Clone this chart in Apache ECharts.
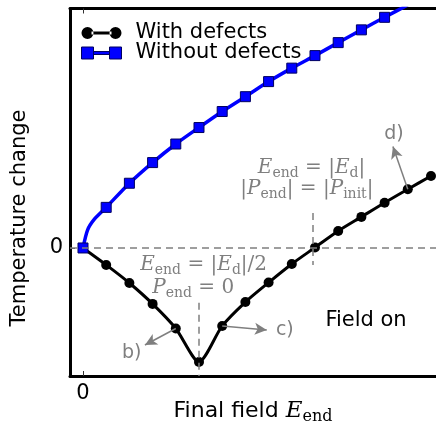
<!DOCTYPE html>
<html><head><meta charset="utf-8">
<script src="https://cdn.jsdelivr.net/npm/echarts@6/dist/echarts.min.js"></script>
<style>html,body{margin:0;padding:0;background:#fff}#c{width:436px;height:430px}</style>
</head><body><div id="c"></div>
<script>
// ---- data ----
const fieldSteps = [0,1,2,3,4,5,6,7,8,9,10,11,12,13,14,15];
const withDefects = [0,-0.73,-1.51,-2.41,-3.47,-4.91,-3.36,-2.33,-1.49,-0.69,0.02,0.73,1.34,1.95,2.53,3.10];
const withoutDefectsSteps = [0,1,2,3,4,5,6,7,8,9,10,11,12,13,14];
const withoutDefects = [0,1.75,2.79,3.68,4.48,5.19,5.88,6.52,7.17,7.75,8.29,8.85,9.40,9.94,10.47];
// extra points read along the curved start of the blue line (no markers there)
const withoutDefectsCurveX = [0.2,0.5];
const withoutDefectsCurveY = [0.78,1.25];
const xTickValues = [0];
const yTickValues = [0];
const seriesNames = ['With defects','Without defects'];
const halfField = 5;      // E_end = |E_d|/2
const fullField = 9.9;    // E_end = |E_d|

const GRAY = '#7f7f7f';
const SANS = 'DejaVu Sans';
const SERIF = 'DejaVu Serif';

const chart = echarts.init(document.getElementById('c'), null, {renderer:'canvas'});

const blackData = fieldSteps.map((x,i)=>[x, withDefects[i]]);
const blueData = [];
withoutDefectsSteps.forEach((x,i)=>{
  blueData.push([x, withoutDefects[i]]);
  if (i === 0) {
    withoutDefectsCurveX.forEach((cx,j)=>blueData.push({value:[cx, withoutDefectsCurveY[j]], symbol:'none'}));
  }
});

const mathRich = (size, color, sansSize) => ({
  i:{fontFamily:SERIF, fontStyle:'italic', fontSize:size, color:color, fill:color},
  r:{fontFamily:SERIF, fontSize:size, color:color, fill:color},
  s:{fontFamily:SERIF, fontSize:Math.round(size*0.7), color:color, fill:color, padding:[11,0,0,0]},
  a:{fontFamily:SANS, fontSize:sansSize || 21, color:'#000', fill:'#000'}
});

const circleIcon = 'path://M0,6a6,6 0 1,0 12,0a6,6 0 1,0 -12,0ZM28,6a6,6 0 1,0 12,0a6,6 0 1,0 -12,0ZM10,4.5H30V7.5H10Z';
const squareIcon = 'path://M0,0H12V12H0ZM28,0H40V12H28ZM12,4.5H28V7.5H12Z';

const xMin = -0.5603, xMax = 15.216, yMin = -5.517, yMax = 10.32;

const option = {
  animation:false,
  backgroundColor:'#fff',
  grid:{left:70, right:0, top:8.5, bottom:54, containLabel:false, outerBoundsMode:'none'},
  legend:{
    orient:'vertical', left:76, top:17.5, itemWidth:40, itemHeight:12, itemGap:-1,
    textStyle:{fontFamily:SANS, fontSize:21, color:'#000', padding:[0,0,0,9]},
    data:[
      {name:seriesNames[0], icon:circleIcon, itemStyle:{color:'#000', borderWidth:0}},
      {name:seriesNames[1], icon:squareIcon, itemStyle:{color:'#0000ff', borderColor:'#000060', borderWidth:1}}
    ]
  },
  xAxis:[
    {type:'value', position:'bottom', min:xMin, max:xMax,
     name:'{a|Final field }{i|E}{s|end}', nameLocation:'middle', nameGap:22, nameMoveOverlap:false,
     nameTextStyle:{rich:mathRich(23,'#000',22)},
     axisLine:{show:true, onZero:false, lineStyle:{color:'#000', width:3}},
     axisTick:{show:true, inside:true, length:5, customValues:xTickValues, lineStyle:{color:'#333', width:1}},
     axisLabel:{show:true, customValues:xTickValues, margin:7, fontFamily:SANS, fontSize:21, color:'#000'},
     splitLine:{show:false}},
    {type:'value', position:'top', min:xMin, max:xMax,
     axisLine:{show:true, onZero:false, lineStyle:{color:'#000', width:3}},
     axisTick:{show:true, inside:true, length:5, customValues:xTickValues, lineStyle:{color:'#333', width:1}},
     axisLabel:{show:false}, splitLine:{show:false}}
  ],
  yAxis:{type:'value', min:yMin, max:yMax,
    axisLine:{show:true, onZero:false, lineStyle:{color:'#000', width:3}},
    axisTick:{show:true, inside:true, length:5, customValues:yTickValues, lineStyle:{color:'#333', width:1}},
    axisLabel:{show:true, customValues:yTickValues, margin:7, fontFamily:SANS, fontSize:21, color:'#000'},
    splitLine:{show:false}},
  series:[
    {name:seriesNames[0], type:'line', xAxisIndex:0, data:blackData, smooth:0.25,
     symbol:'circle', symbolSize:10, showAllSymbol:true,
     lineStyle:{color:'#000', width:3}, itemStyle:{color:'#000'}, z:3,
     markLine:{silent:true, symbol:['none','none'], label:{show:false},
       lineStyle:{color:GRAY, width:1.5, type:[7,5]},
       data:[
         {yAxis:0},
         [{coord:[halfField, -2.36]},{coord:[halfField, yMin]}],
         [{coord:[fullField, 1.51]},{coord:[fullField, -0.73]}]
       ]}
    },
    {name:seriesNames[1], type:'line', xAxisIndex:0, data:blueData, smooth:0.25,
     symbol:'rect', symbolSize:10, showAllSymbol:true,
     lineStyle:{color:'#0000ff', width:3.5}, itemStyle:{color:'#0000ff', borderColor:'#000060', borderWidth:1}, z:4,
     markLine:{silent:true, label:{show:false}, animation:false,
       lineStyle:{color:GRAY, width:1.5, type:'solid'},
       data:[
         [{coord:[4, withDefects[4]], symbol:'none'},{coord:[2.67,-4.18], symbol:'arrow', symbolSize:[9,12]}],
         [{coord:[6, withDefects[6]], symbol:'none'},{coord:[7.92,-3.53], symbol:'arrow', symbolSize:[9,12]}],
         [{coord:[14, withDefects[14]], symbol:'none'},{coord:[13.36,4.37], symbol:'arrow', symbolSize:[9,12]}]
       ]}
    }
  ]
};
chart.setOption(option);

const P = (x,y)=>chart.convertToPixel({xAxisIndex:0, yAxisIndex:0},[x,y]);
const texts = [
  {at:[5.2,-0.73], t:'{i|E}{s|end}{r| = |}{i|E}{s|d}{r||/2}', math:true},
  {at:[4.75,-1.72], t:'{i|P}{s|end}{r| = 0}', math:true},
  {at:[9.85,3.45], t:'{i|E}{s|end}{r| = |}{i|E}{s|d}{r||}', math:true},
  {at:[9.65,2.55], t:'{r||}{i|P}{s|end}{r|| = |}{i|P}{s|init}{r||}', math:true},
  {at:[2.1,-4.52], t:'b)', math:false},
  {at:[8.7,-3.53], t:'c)', math:false},
  {at:[13.4,4.93], t:'d)', math:false},
  {at:[12.2,-3.14], t:'Field on', math:false, black:true}
];
const graphic = texts.map(o=>{
  const p = P(o.at[0], o.at[1]);
  return {type:'text', x:p[0], y:p[1], z:100, silent:true,
    style: o.math ? {text:o.t, rich:mathRich(20,GRAY), fill:GRAY, align:'center', verticalAlign:'middle'}
                  : {text:o.t, fontFamily:SANS, fontSize:o.black?21:19, fill:o.black?'#000':GRAY, align:'center', verticalAlign:'middle'}};
});
graphic.push({type:'text', x:20, y:218, rotation:Math.PI/2, z:100, silent:true,
  style:{text:'Temperature change', fontFamily:SANS, fontSize:21, fill:'#000', align:'center', verticalAlign:'middle'}});
chart.setOption({graphic:graphic});
</script></body></html>
